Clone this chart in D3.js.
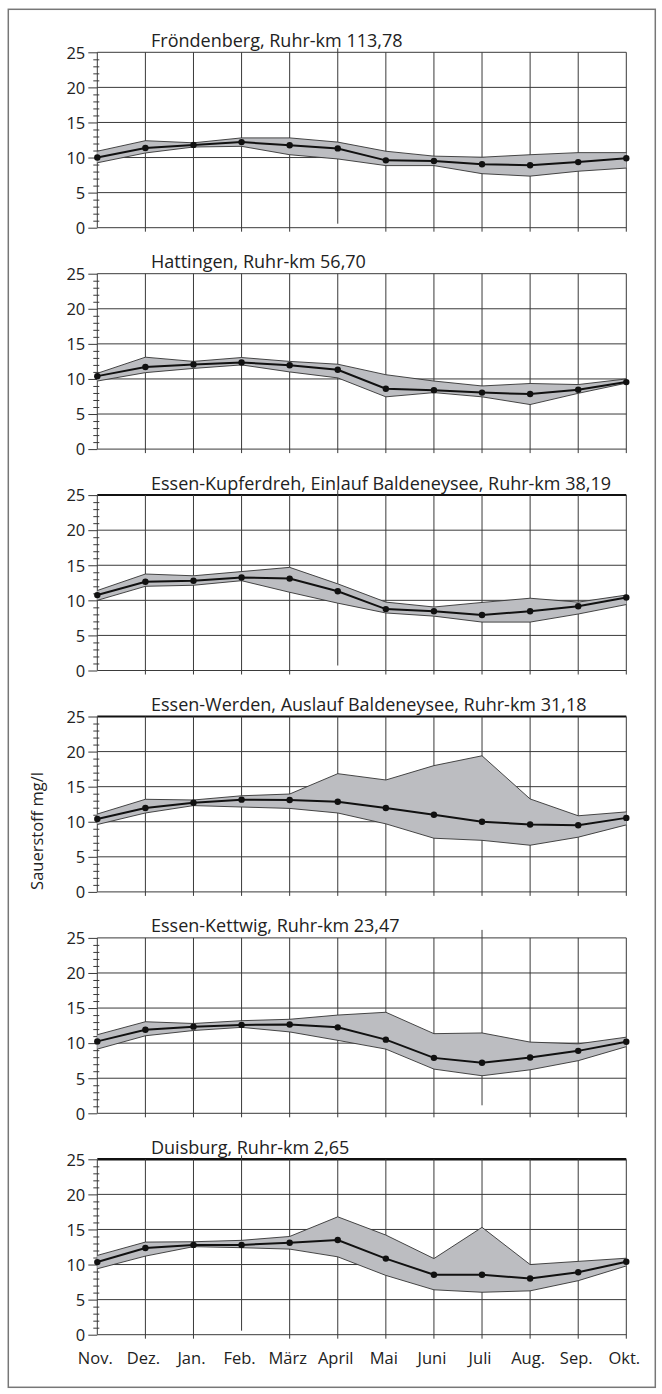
<!DOCTYPE html>
<html>
<head>
<meta charset="utf-8">
<script src="https://cdn.jsdelivr.net/npm/d3@7"></script>
<style>
  body { margin: 0; background: #fff; }
  text { font-family: 'Open Sans', sans-serif; fill: #222; }
</style>
</head>
<body>
<svg id="oxygen"></svg>
<script>
// months of the hydrological year
let months = ['Nov.', 'Dez.', 'Jan.', 'Feb.', 'März', 'April', 'Mai', 'Juni', 'Juli', 'Aug.', 'Sep.', 'Okt.']

// one title per station, top to bottom
let stations = [
  'Fröndenberg, Ruhr-km 113,78',
  'Hattingen, Ruhr-km 56,70',
  'Essen-Kupferdreh, Einlauf Baldeneysee, Ruhr-km 38,19',
  'Essen-Werden, Auslauf Baldeneysee, Ruhr-km 31,18',
  'Essen-Kettwig, Ruhr-km 23,47',
  'Duisburg, Ruhr-km 2,65',
]

// monthly mean oxygen (mg/l), one row per station
let meanO2 = [
  [10.0, 11.35, 11.8, 12.2, 11.75, 11.3, 9.6, 9.5, 9.05, 8.9, 9.35, 9.9],
  [10.4, 11.7, 12.05, 12.35, 11.95, 11.3, 8.6, 8.4, 8.05, 7.85, 8.45, 9.55],
  [10.75, 12.65, 12.8, 13.25, 13.1, 11.3, 8.75, 8.45, 7.9, 8.45, 9.15, 10.4],
  [10.4, 11.95, 12.7, 13.15, 13.1, 12.85, 11.95, 11.0, 10.0, 9.6, 9.5, 10.55],
  [10.25, 11.9, 12.35, 12.6, 12.65, 12.25, 10.5, 7.9, 7.2, 7.95, 8.9, 10.2],
  [10.35, 12.35, 12.8, 12.8, 13.1, 13.5, 10.85, 8.55, 8.55, 8.0, 8.9, 10.4],
]

// monthly maximum
let maxO2 = [
  [10.9, 12.4, 12.1, 12.8, 12.8, 12.2, 10.9, 10.2, 10.05, 10.4, 10.7, 10.7],
  [10.8, 13.1, 12.5, 13.05, 12.5, 12.1, 10.6, 9.7, 9.0, 9.35, 9.2, 10.0],
  [11.4, 13.75, 13.5, 14.1, 14.7, 12.35, 9.75, 9.05, 9.7, 10.3, 9.75, 10.75],
  [11.1, 13.2, 13.1, 13.7, 13.95, 16.85, 15.95, 18.0, 19.4, 13.25, 10.85, 11.4],
  [11.2, 13.05, 12.8, 13.2, 13.4, 14.0, 14.4, 11.35, 11.45, 10.15, 9.9, 10.85],
  [11.3, 13.2, 13.25, 13.45, 14.0, 16.8, 14.2, 10.85, 15.3, 10.0, 10.45, 10.9],
]

// monthly minimum
let minO2 = [
  [9.25, 10.65, 11.5, 11.6, 10.4, 9.8, 8.85, 8.85, 7.7, 7.35, 8.05, 8.5],
  [9.7, 10.9, 11.5, 12.0, 11.0, 10.15, 7.45, 8.05, 7.45, 6.35, 7.95, 9.4],
  [10.0, 12.0, 12.15, 12.8, 11.15, 9.6, 8.2, 7.75, 6.9, 6.9, 8.05, 9.4],
  [9.6, 11.25, 12.3, 12.1, 11.9, 11.25, 9.7, 7.65, 7.35, 6.65, 7.8, 9.55],
  [9.15, 11.05, 11.8, 12.25, 11.6, 10.4, 9.15, 6.3, 5.35, 6.2, 7.5, 9.5],
  [9.4, 11.2, 12.55, 12.4, 12.2, 11.1, 8.45, 6.4, 6.05, 6.25, 7.7, 9.8],
]

let yTicks = [0, 5, 10, 15, 20, 25]
let minorTicks = d3.range(0, 26)

// quirks of the scanned original: one vertical grid line per panel sits a bit higher
let shiftedMonth = ['April', null, 'April', null, 'Juli', 'Feb.']
let shiftPx = [4, 0, 5, 0, 8, 4]
// the top border is drawn heavier in some panels
let topStroke = [1, 1, 2, 2, 1, 2.5]

// layout
let outerWidth = 662
let outerHeight = 1394
let plotLeft = 97.3
let plotRight = 626.3
let panelTop = 52.3
let panelStep = 221.4
let panelHeight = 175.4

let svg = d3.select('svg#oxygen')
  .attr('width', outerWidth)
  .attr('height', outerHeight)

// outer frame
svg.append('rect')
  .attr('x', 8.3)
  .attr('y', 9.3)
  .attr('width', 647)
  .attr('height', 1378)
  .attr('fill', 'none')
  .attr('stroke', '#777')
  .attr('stroke-width', 1.5)

let xScale = d3.scalePoint().domain(months).range([plotLeft, plotRight])
let yScale = d3.scaleLinear().domain([0, 25]).range([panelHeight, 0])

let area = d3.area()
  .x(d => xScale(d.m))
  .y0(d => yScale(d.lo))
  .y1(d => yScale(d.hi))
let lineOf = key => d3.line().x(d => xScale(d.m)).y(d => yScale(d[key]))

stations.forEach((title, i) => {
  let rows = months.map((m, j) => ({ m: m, mean: meanO2[i][j], hi: maxO2[i][j], lo: minO2[i][j] }))
  let g = svg.append('g')
    .attr('transform', `translate(0, ${panelTop + i * panelStep})`)

  // horizontal grid
  g.selectAll('line.hgrid')
    .data(yTicks.slice(1, -1))
    .join('line')
    .attr('class', 'hgrid')
    .attr('x1', plotLeft)
    .attr('x2', plotRight)
    .attr('y1', d => yScale(d))
    .attr('y2', d => yScale(d))
    .attr('stroke', '#3a3a3a')
    .attr('stroke-width', 1)

  // top border
  g.append('line')
    .attr('x1', plotLeft)
    .attr('x2', plotRight)
    .attr('y1', yScale(25))
    .attr('y2', yScale(25))
    .attr('stroke', topStroke[i] > 1 ? '#111' : '#3a3a3a')
    .attr('stroke-width', topStroke[i])

  // bottom line
  g.append('line')
    .attr('x1', plotLeft)
    .attr('x2', plotRight)
    .attr('y1', yScale(0))
    .attr('y2', yScale(0))
    .attr('stroke', '#3a3a3a')
    .attr('stroke-width', 1)

  // vertical grid
  g.selectAll('line.vgrid')
    .data(months)
    .join('line')
    .attr('class', 'vgrid')
    .attr('x1', d => xScale(d))
    .attr('x2', d => xScale(d))
    .attr('y1', d => yScale(25) - (d === shiftedMonth[i] ? shiftPx[i] : 0))
    .attr('y2', d => yScale(0) + (d === 'Nov.' ? 0 : 4) - (d === shiftedMonth[i] ? shiftPx[i] + 4 : 0))
    .attr('stroke', '#3a3a3a')
    .attr('stroke-width', 1)

  // y axis: major ticks with labels
  let yAxis = g.append('g')
    .attr('transform', `translate(${plotLeft}, 0)`)
    .call(d3.axisLeft(yScale).tickValues(yTicks).tickSize(9).tickPadding(3))
  yAxis.select('.domain').remove()
  yAxis.selectAll('line').attr('stroke', '#3a3a3a')
  yAxis.selectAll('text')
    .style('font-family', "'Open Sans', sans-serif")
    .style('font-size', '16.5px')
    .attr('fill', '#222')
    .attr('dy', '0.35em')

  // minor ticks crossing the axis
  let minor = g.append('g')
    .attr('transform', `translate(${plotLeft + 2}, 0)`)
    .call(d3.axisLeft(yScale).tickValues(minorTicks.filter(v => v % 5 !== 0)).tickSize(6).tickFormat(''))
  minor.select('.domain').remove()
  minor.selectAll('line').attr('stroke', '#3a3a3a')

  // band between minimum and maximum
  g.append('path')
    .datum(rows)
    .attr('d', area)
    .attr('fill', '#bcbdc1')
  ;['hi', 'lo'].forEach(k => {
    g.append('path')
      .datum(rows)
      .attr('d', lineOf(k))
      .attr('fill', 'none')
      .attr('stroke', '#333')
      .attr('stroke-width', 0.9)
  })

  // mean line with points
  g.append('path')
    .datum(rows)
    .attr('d', lineOf('mean'))
    .attr('fill', 'none')
    .attr('stroke', '#111')
    .attr('stroke-width', 2)
  g.selectAll('circle')
    .data(rows)
    .join('circle')
    .attr('cx', d => xScale(d.m))
    .attr('cy', d => yScale(d.mean))
    .attr('r', 3.2)
    .attr('fill', '#111')

  // station title
  g.append('text')
    .attr('x', 151)
    .attr('y', yScale(25) - 5.6)
    .style('font-size', '18px')
    .text(title)

  // month labels below the last panel
  if (i === stations.length - 1) {
    g.selectAll('text.month')
      .data(months)
      .join('text')
      .attr('class', 'month')
      .attr('x', d => xScale(d) - 2)
      .attr('y', yScale(0) + 29)
      .attr('text-anchor', 'middle')
      .style('font-size', '16.5px')
      .text(d => d)
  }
})

// y axis title
svg.append('text')
  .attr('x', 42.7)
  .attr('y', 831)
  .attr('text-anchor', 'middle')
  .attr('transform', 'rotate(-90 42.7 831)')
  .style('font-size', '16.5px')
  .text('Sauerstoff mg/l')
</script>
</body>
</html>
